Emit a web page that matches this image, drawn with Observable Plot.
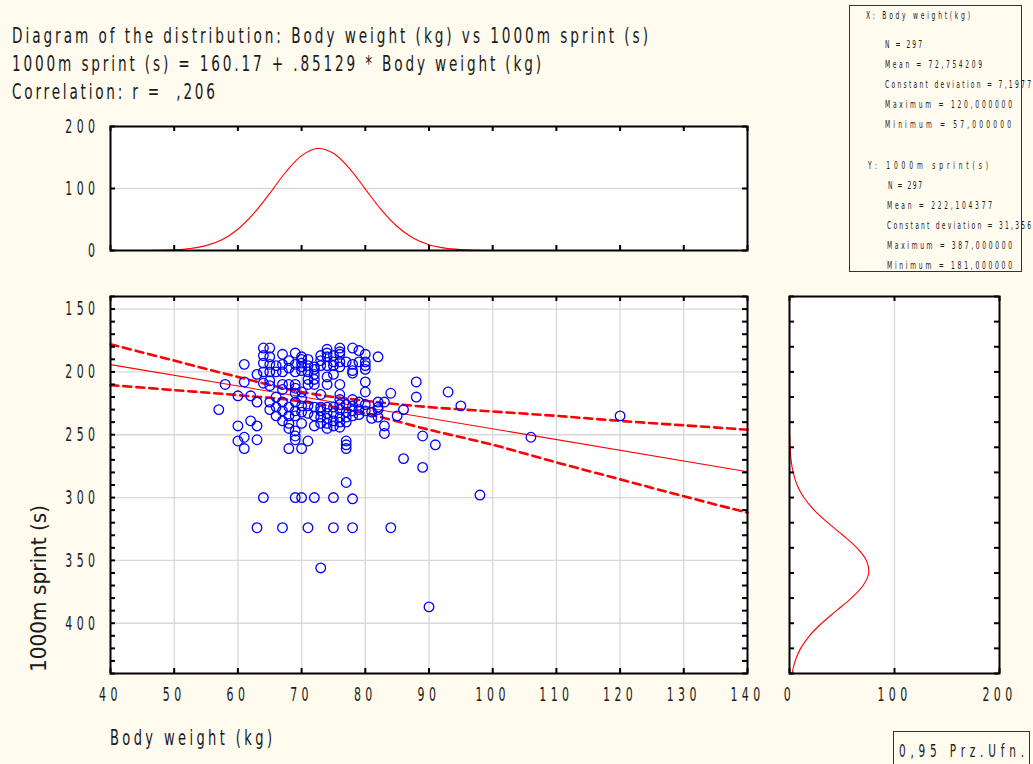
<!DOCTYPE html>
<html><head><meta charset="utf-8">
<script src="https://cdn.jsdelivr.net/npm/d3@7"></script>
<script src="https://cdn.jsdelivr.net/npm/@observablehq/plot@0.6"></script>
<style>
html,body{margin:0;padding:0;background:#fffbef;}
#root{position:relative;width:1033px;height:764px;overflow:hidden;background:#fffbef;}
.panel{position:absolute;}
</style></head><body><div id="root"></div>
<script>
// ---------- data ----------
const weightKg = [57,58,61,61,60,62,60,62,63,60,61,63,61,63,63,
64,65,64,65,64,65,64,65,65,65,64,66,66,67,67,67,67,67,68,68,68,69,69,69,69,69,70,70,70,70,70,71,71,71,71,71,72,72,72,72,72,73,73,73,74,74,74,74,74,74,75,75,75,75,76,76,76,76,76,76,77,78,78,78,78,79,79,80,80,80,80,80,80,82,
84,88,88,93,95,83,82,86,85,83,83,89,91,86,89,106,120,98,
65,65,66,66,66,67,67,67,68,68,68,69,69,69,69,70,70,70,70,70,71,71,72,72,72,73,73,69,69,69,68,68,70,71,73,73,73,74,74,74,74,74,75,75,75,75,76,76,76,76,76,76,76,77,77,77,77,77,77,78,78,78,78,79,79,79,80,80,81,81,82,82,82,77,77,
64,69,70,72,75,78,63,67,71,75,78,84,73,90];
const sprintS = [230,210,194,208,219,219,243,239,243,255,252,254,261,202,224,
181,181,187,188,193,194,200,200,207,211,209,195,200,186,194,200,210,214,191,197,210,185,194,200,210,213,188,193,199,190,196,190,195,200,206,210,198,202,206,210,196,187,191,195,182,188,195,204,210,185,187,192,195,202,181,186,192,196,210,184,192,181,194,199,201,183,192,186,192,195,198,208,216,188,
217,208,220,216,227,224,228,230,235,243,249,251,258,269,276,252,235,298,
224,230,220,228,235,224,231,239,228,235,241,217,224,231,235,216,221,227,232,241,227,233,228,235,243,218,228,247,251,254,245,261,261,255,231,236,241,228,233,237,241,245,228,233,239,243,218,222,226,230,236,240,244,226,232,236,240,255,258,222,227,231,235,224,230,234,226,231,232,237,224,230,236,261,288,
300,300,300,300,300,301,324,324,324,324,324,324,356,387];

// regression line and 0.95 confidence band (read at x = 40..140)
const regX = [40, 140];
const regY = [194.2, 279.4];
const bandX    = [40, 50, 60, 70, 80, 90, 100, 110, 120, 130, 140];
const bandLow  = [178, 191, 204, 216, 223, 228, 231.5, 235, 239, 242.5, 246];
const bandHigh = [210.5, 214.5, 218.5, 223.5, 233, 246, 258, 272, 285.5, 299, 312];

// marginal fitted curves
const topX = [45,47.5,50,52.5,55,57.5,60,62.5,65,67.5,70,72.5,75,77.5,80,82.5,85,87.5,90,92.5,95,97.5,100];
const topF = [0.1,0.35,1.1,3.1,7.9,17.4,34.3,59.7,92.1,126.2,153,164.5,156.7,132.4,99.1,65.8,38.7,20.2,9.3,3.8,1.4,0.45,0.1];
const rightY = [140,150,160,170,180,190,200,210,220,230,240,250,260,270,280,290,300,310,320,330];
const rightF = [2.45,5.4,10.6,19,30.7,44.7,58.9,70.1,75.4,73.2,64.2,50.9,36.4,23.5,13.7,7.2,3.45,1.5,0.58,0.2];

// ticks
const mainXTicks = [40,50,60,70,80,90,100,110,120,130,140];
const mainYLabels = [150,200,250,300,350,400];
const mainYMinor = d3.range(140, 441, 10);
const topYLabels = [0,100,200];
const rightXLabels = [0,100,200];
const rightYMinor = d3.range(140, 441, 20);

// stats text
const statsX = ["X: Body weight(kg)","N = 297","Mean = 72,754209","Constant deviation = 7,1977","Maximum = 120,000000","Minimum = 57,000000"];
const statsY = ["Y: 1000m sprint(s)","N = 297","Mean = 222,104377","Constant deviation = 31,356","Maximum = 387,000000","Minimum = 181,000000"];

// ---------- build ----------
const FONT = '"DejaVu Sans","Liberation Sans",sans-serif';
const TICK_SX = 0.55;
const root = document.getElementById("root");
const baseStyle = {fontFamily: FONT, fontSize: "20px", letterSpacing: "8px", background: "transparent", overflow: "visible", color: "#1a1a1a"};
const pts = weightKg.map((w, i) => ({w, s: sprintS[i]}));
const band = bandX.map((x, i) => ({x, lo: bandLow[i], hi: bandHigh[i]}));
const reg = regX.map((x, i) => ({x, y: regY[i]}));
const topD = topX.map((x, i) => ({x, f: topF[i]}));
const rightD = rightY.map((y, i) => ({y, f: rightF[i]}));
const grid = {stroke: "#d8d8d8", strokeOpacity: 1, strokeWidth: 1.3};
const tk = {stroke: "black", strokeWidth: 2};

function narrowTicks(svg) {
  svg.querySelectorAll('g[aria-label$="tick label"] text').forEach(t => {
    const xa = parseFloat(t.getAttribute("x")) || 0;
    const tr = t.getAttribute("transform") || "";
    t.setAttribute("transform", `${tr} translate(${xa},0) scale(${TICK_SX},1)`);
    if (t.hasAttribute("x")) t.setAttribute("x", 0);
  });
}
function place(el, left, top) {
  narrowTicks(el);
  el.classList.add("panel");
  el.style.left = left + "px"; el.style.top = top + "px";
  root.appendChild(el);
}

// main scatter
{
  const W = 710, H = 430, mL = 60, mR = 13, mT = 10, mB = 43;
  const fw = W - mL - mR, fh = H - mT - mB;
  const p = Plot.plot({
    width: W, height: H, marginLeft: mL, marginRight: mR, marginTop: mT, marginBottom: mB,
    style: baseStyle,
    x: {domain: [40, 140], label: null},
    y: {domain: [140, 440], reverse: true, label: null},
    marks: [
      Plot.frame({fill: "white", stroke: null}),
      Plot.gridX(mainXTicks, grid),
      Plot.gridY(mainYLabels, grid),
      Plot.line(reg, {x: "x", y: "y", stroke: "#ff0000", strokeWidth: 1.1}),
      Plot.line(band, {x: "x", y: "lo", stroke: "#ff0000", strokeWidth: 2.6, strokeDasharray: "8,5", curve: "catmull-rom"}),
      Plot.line(band, {x: "x", y: "hi", stroke: "#ff0000", strokeWidth: 2.6, strokeDasharray: "8,5", curve: "catmull-rom"}),
      Plot.dot(pts, {x: "w", y: "s", r: 4.8, stroke: "#0000ff", strokeWidth: 1.3, fill: "none"}),
      Plot.tickY(mainYMinor, {y: d => d, insetRight: fw - 5, ...tk}),
      Plot.tickY(mainYMinor, {y: d => d, insetLeft: fw - 5, ...tk}),
      Plot.tickX(mainXTicks, {x: d => d, insetTop: fh - 5, ...tk}),
      Plot.tickX(mainXTicks, {x: d => d, insetBottom: fh - 5, ...tk}),
      Plot.frame({stroke: "black", strokeWidth: 2}),
      Plot.axisX(mainXTicks, {tickSize: 0, tickPadding: 13, fill: "#1a1a1a", label: null}),
      Plot.axisY(mainYLabels, {tickSize: 0, tickPadding: 11, fill: "#1a1a1a", label: null})
    ]
  });
  place(p, 50, 286);
}

// top marginal
{
  const W = 710, H = 150, mL = 60, mR = 13, mT = 10, mB = 16;
  const fw = W - mL - mR, fh = H - mT - mB;
  const p = Plot.plot({
    width: W, height: H, marginLeft: mL, marginRight: mR, marginTop: mT, marginBottom: mB,
    style: baseStyle,
    x: {domain: [40, 140], label: null, axis: null},
    y: {domain: [0, 200], label: null},
    marks: [
      Plot.frame({fill: "white", stroke: null}),
      Plot.gridY([100], grid),
      Plot.line(topD, {x: "x", y: "f", stroke: "#ff0000", strokeWidth: 1.1, curve: "catmull-rom"}),
      Plot.tickX(mainXTicks, {x: d => d, insetTop: fh - 5, ...tk}),
      Plot.tickX(mainXTicks, {x: d => d, insetBottom: fh - 5, ...tk}),
      Plot.tickY(topYLabels, {y: d => d, insetRight: fw - 5, ...tk}),
      Plot.tickY(topYLabels, {y: d => d, insetLeft: fw - 5, ...tk}),
      Plot.frame({stroke: "black", strokeWidth: 2}),
      Plot.axisY(topYLabels, {tickSize: 0, tickPadding: 11, fill: "#1a1a1a", label: null})
    ]
  });
  place(p, 50, 116);
}

// right marginal
{
  const W = 273, H = 430, mL = 29, mR = 34, mT = 10, mB = 43;
  const fw = W - mL - mR, fh = H - mT - mB;
  const p = Plot.plot({
    width: W, height: H, marginLeft: mL, marginRight: mR, marginTop: mT, marginBottom: mB,
    style: baseStyle,
    x: {domain: [0, 200], label: null},
    y: {domain: [140, 440], label: null, axis: null},
    marks: [
      Plot.frame({fill: "white", stroke: null}),
      Plot.gridX([100], grid),
      Plot.line(rightD, {x: "f", y: "y", stroke: "#ff0000", strokeWidth: 1.1, curve: "catmull-rom"}),
      Plot.tickY(rightYMinor, {y: d => d, insetRight: fw - 5, ...tk}),
      Plot.tickY(rightYMinor, {y: d => d, insetLeft: fw - 5, ...tk}),
      Plot.tickX(rightXLabels, {x: d => d, insetTop: fh - 5, ...tk}),
      Plot.tickX(rightXLabels, {x: d => d, insetBottom: fh - 5, ...tk}),
      Plot.frame({stroke: "black", strokeWidth: 2}),
      Plot.axisX(rightXLabels, {tickSize: 0, tickPadding: 13, fill: "#1a1a1a", label: null})
    ]
  });
  place(p, 760, 286);
}

// ---------- text overlay ----------
const ov = d3.select(root).append("svg")
  .attr("width", 1033).attr("height", 764)
  .style("position", "absolute").style("left", 0).style("top", 0).style("overflow", "visible")
  .style("font-family", FONT);

// narrow text: glyphs squeezed horizontally, spacing stretched to the measured width
function ntxt(s, x, y, len, size, sx) {
  return ov.append("text")
    .attr("transform", `translate(${x},${y}) scale(${sx},1)`)
    .attr("font-size", size).attr("fill", "#1a1a1a")
    .attr("textLength", len / sx).attr("lengthAdjust", "spacing")
    .style("white-space", "pre")
    .text(s);
}

ntxt("Diagram of the distribution: Body weight (kg) vs 1000m sprint (s)", 12, 43, 636, 22, 0.62);
ntxt("1000m sprint (s) = 160.17 + .85129 * Body weight (kg)", 12, 71, 529, 22, 0.62);
ntxt("Correlation: r =  ,206", 12, 99, 203, 22, 0.62);

// stats box
ov.append("rect").attr("x", 849.5).attr("y", 5.5).attr("width", 172).attr("height", 266)
  .attr("fill", "none").attr("stroke", "#333").attr("stroke-width", 1);
const sx = [[866, 19, 104], [885, 47.5, 37], [885, 67.5, 97], [885, 87.5, 146], [885, 107.5, 127], [885, 127.5, 126]];
const sy = [[868, 168.5, 120], [888, 188.5, 34], [887, 208.5, 105], [887, 228.5, 144], [887, 248.5, 125], [887, 268.5, 125]];
statsX.forEach((s, i) => ntxt(s, sx[i][0], sx[i][1], sx[i][2], 10, 0.6));
statsY.forEach((s, i) => ntxt(s, sy[i][0], sy[i][1], sy[i][2], 10, 0.6));

// axis titles
ntxt("Body weight (kg)", 110, 745, 162, 21, 0.62);
ov.append("text").attr("transform", "translate(46,672) rotate(-90)")
  .attr("font-size", 22).attr("fill", "#1a1a1a")
  .attr("textLength", 167).attr("lengthAdjust", "spacingAndGlyphs")
  .text("1000m sprint (s)");

// legend box
ov.append("rect").attr("x", 893.5).attr("y", 731.5).attr("width", 136).attr("height", 40)
  .attr("fill", "none").attr("stroke", "#333").attr("stroke-width", 1);
ntxt("0,95 Prz.Ufn.", 899, 757, 125, 17, 0.62);
</script></body></html>
